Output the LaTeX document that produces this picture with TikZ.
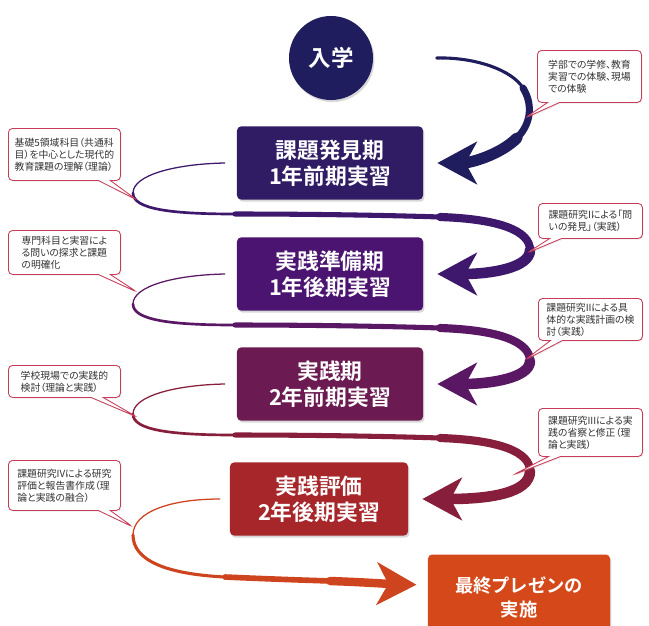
\documentclass[tikz,border=0pt]{standalone}
\usepackage{fontspec}
\setmainfont{Noto Sans CJK JP}[BoldFont={Noto Sans CJK JP Bold}]
\newfontfamily\notefont{Noto Sans CJK JP}[RawFeature=+palt]
\usetikzlibrary{arrows.meta,shapes.callouts,shadows}
\definecolor{enterc}{RGB}{31,29,94}
\definecolor{stageA}{RGB}{48,28,100}
\definecolor{stageB}{RGB}{75,20,112}
\definecolor{stageC}{RGB}{108,27,82}
\definecolor{stageD}{RGB}{166,38,42}
\definecolor{stageE}{RGB}{213,72,26}
\definecolor{flowA}{RGB}{62,24,108}
\definecolor{flowB}{RGB}{90,24,100}
\definecolor{flowC}{RGB}{135,30,60}
\definecolor{flowD}{RGB}{205,68,30}
\definecolor{notec}{RGB}{200,60,90}
\begin{document}
\begin{tikzpicture}[x=0.025cm, y=-0.025cm, line cap=round,
  stage/.style={rounded corners=3pt,minimum width=4.65cm,minimum height=1.83cm,align=center,text=white,
    font=\fontsize{15.5}{18.5}\selectfont\bfseries,drop shadow={opacity=0.3,shadow xshift=1pt,shadow yshift=-1.5pt}},
  note/.style={rectangle callout,draw=notec,fill=white,rounded corners=3pt,line width=0.6pt,align=left,anchor=north west,
    inner xsep=3pt,inner ysep=2pt,callout pointer width=0.3cm,text=black!80,font=\notefont\fontsize{7}{8.6}\selectfont,
    drop shadow={opacity=0.15,shadow xshift=0.8pt,shadow yshift=-0.8pt}},
  head/.style={-{Stealth[length=28pt,width=30pt,inset=8pt]},shorten >=10pt}]
\fill[white] (0,0) rectangle (649,625);
\useasboundingbox (0,0) rectangle (649,625);
\node[circle,fill=enterc,minimum size=2.1cm,text=white,font=\fontsize{16}{18}\selectfont\bfseries,
  drop shadow={opacity=0.3,shadow xshift=1pt,shadow yshift=-1.5pt}] (enter) at (331,58) {入学};
\node[stage,fill=stageA] (b1) at (330,163) {課題発見期\\1年前期実習};
\node[stage,fill=stageB] (b2) at (330,274) {実践準備期\\1年後期実習};
\node[stage,fill=stageC] (b3) at (330,384) {実践期\\2年前期実習};
\node[stage,fill=stageD,minimum width=4.45cm] (b4) at (319,499) {実践評価\\2年後期実習};
\node[stage,fill=stageE,minimum width=4.55cm,minimum height=2.125cm,font=\fontsize{13}{17}\selectfont\bfseries] (fin) at (519,597) {最終プレゼンの\\実施};
% entry arrow
\draw[enterc,line width=2.2pt] ([xshift=45pt]enter.east) .. controls (475,57) and (512,70) .. (523,88);
\draw[enterc,line width=5pt] (523,88) .. controls (534,106) and (530,125) .. (517,138);
\draw[enterc,line width=8pt,head] (517,138) .. controls (500,155) and (470,163) .. (b1.east);
% zigzag arrows between stages
\foreach \a/\b/\ya/\yb/\col in {b1/b2/163/274/flowA, b2/b3/274/384/flowB, b3/b4/384/499/flowC} {
  \draw[\col,line width=0.9pt] ([xshift=-8.5pt]\a.west) .. controls (175,\ya+1) and (133,\ya+12) .. (133,\ya+30);
  \draw[\col,line width=1.9pt] (133,\ya+30) .. controls (133,\ya+46) and (170,\ya+51) .. (235,\ya+51);
  \draw[\col,line width=3.6pt] (235,\ya+51) .. controls (300,\ya+51) and (380,\ya+52) .. (440,\ya+54);
  \draw[\col,line width=5.8pt] (440,\ya+54) .. controls (500,\ya+56) and (530,\ya+68) .. (530,\ya+87);
  \draw[\col,line width=7.5pt,head] (530,\ya+87) .. controls (530,\yb-6) and (490,\yb) .. (\b.east);
}
\draw[flowD,line width=0.9pt] ([xshift=-7pt]b4.west) .. controls (170,499) and (133,512) .. (133,535);
\draw[flowD,line width=2.2pt] (133,535) .. controls (133,560) and (165,574) .. (225,577);
\draw[flowD,line width=4pt] (225,577) .. controls (270,579) and (300,580) .. (330,581);
\draw[flowD,line width=6pt,head,shorten >=8pt] (330,581) .. controls (360,582) and (390,584) .. ([yshift=8.5pt]fin.west);
% notes
\coordinate (t0) at (525,118);
\coordinate (t1) at (137,200);
\coordinate (t2) at (527,253);
\coordinate (t3) at (137,292);
\coordinate (t4) at (525,360);
\coordinate (t5) at (137,417);
\coordinate (t6) at (513,475);
\coordinate (t7) at (133,527);
\node[note,minimum width=2.6cm,minimum height=1.3cm,callout absolute pointer={(t0)}] (n0) at (537,50) {学部での学修、教育\\実習での体験、現場\\での体験};
\node[note,minimum width=2.8cm,minimum height=1.3cm,callout absolute pointer={(t1)}] (n1) at (8,128) {基礎5領域科目（共通科\\目）を中心とした現代的\\教育課題の理解（理論）};
\node[note,minimum width=2.6cm,minimum height=0.875cm,callout absolute pointer={(t2)}] (n2) at (538,203) {課題研究Iによる「問\\いの発見」（実践）};
\node[note,minimum width=2.8cm,minimum height=1.1cm,callout absolute pointer={(t3)}] (n3) at (8,230) {専門科目と実習によ\\る問いの探求と課題\\の明確化};
\node[note,minimum width=2.6cm,minimum height=1.05cm,callout absolute pointer={(t4)}] (n4) at (538,298) {課題研究IIによる具\\体的な実践計画の検\\討（実践）};
\node[note,minimum width=2.8cm,minimum height=0.8cm,callout absolute pointer={(t5)}] (n5) at (8,365) {学校現場での実践的\\検討（理論と実践）};
\node[note,minimum width=2.6cm,minimum height=1.2cm,callout absolute pointer={(t6)}] (n6) at (538,408) {課題研究IIIによる実\\践の省察と修正（理\\論と実践）};
\node[note,minimum width=2.8cm,minimum height=1.25cm,callout absolute pointer={(t7)}] (n7) at (8,460) {課題研究IVによる研究\\評価と報告書作成（理\\論と実践の融合）};
\end{tikzpicture}
\end{document}
